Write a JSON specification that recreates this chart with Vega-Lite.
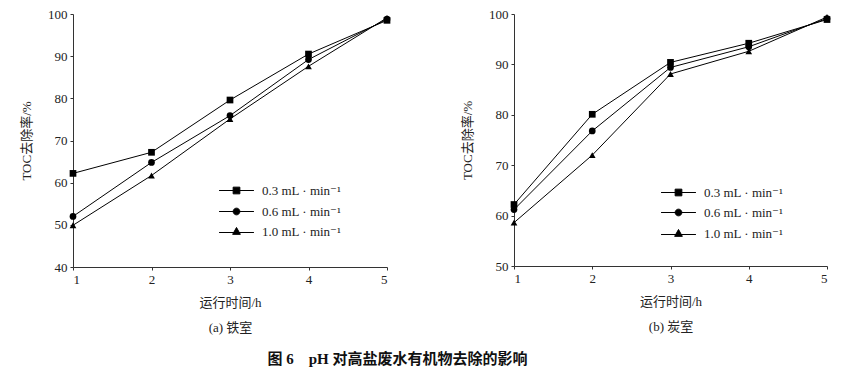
{
  "$schema": "https://vega.github.io/schema/vega-lite/v6.json",
  "padding": {"left": 20, "top": 8, "right": 5, "bottom": 5},
  "background": "white",
  "config": {
    "view": {"stroke": null},
    "font": "Liberation Serif, Noto Sans CJK SC",
    "axis": {
      "grid": false,
      "domainColor": "#333",
      "tickColor": "#333",
      "tickSize": 3,
      "labelFont": "Liberation Serif",
      "labelFontSize": 13,
      "labelColor": "#222",
      "labelPadding": 3,
      "titleFont": "Liberation Serif, Noto Sans CJK SC",
      "titleFontSize": 13,
      "titleFontWeight": "normal",
      "titleColor": "#222"
    },
    "legend": {
      "labelFont": "Liberation Serif, DejaVu Serif",
      "labelFontSize": 13,
      "labelColor": "#222",
      "title": null,
      "orient": "none",
      "labelOffset": 19,
      "symbolSize": 45,
      "symbolStrokeColor": "black",
      "symbolStrokeWidth": 1,
      "symbolFillColor": "black",
      "symbolOpacity": 1
    }
  },
  "datasets": {
    "iron": [
      {"t": 1, "rate": "0.3 mL · min⁻¹", "toc": 62.2},
      {"t": 2, "rate": "0.3 mL · min⁻¹", "toc": 67.2},
      {"t": 3, "rate": "0.3 mL · min⁻¹", "toc": 79.6},
      {"t": 4, "rate": "0.3 mL · min⁻¹", "toc": 90.5},
      {"t": 5, "rate": "0.3 mL · min⁻¹", "toc": 98.5},
      {"t": 1, "rate": "0.6 mL · min⁻¹", "toc": 52.0},
      {"t": 2, "rate": "0.6 mL · min⁻¹", "toc": 64.8},
      {"t": 3, "rate": "0.6 mL · min⁻¹", "toc": 75.9},
      {"t": 4, "rate": "0.6 mL · min⁻¹", "toc": 89.2},
      {"t": 5, "rate": "0.6 mL · min⁻¹", "toc": 98.8},
      {"t": 1, "rate": "1.0 mL · min⁻¹", "toc": 49.9},
      {"t": 2, "rate": "1.0 mL · min⁻¹", "toc": 61.7},
      {"t": 3, "rate": "1.0 mL · min⁻¹", "toc": 75.1},
      {"t": 4, "rate": "1.0 mL · min⁻¹", "toc": 87.6},
      {"t": 5, "rate": "1.0 mL · min⁻¹", "toc": 99.1}
    ],
    "carbon": [
      {"t": 1, "rate": "0.3 mL · min⁻¹", "toc": 62.2},
      {"t": 2, "rate": "0.3 mL · min⁻¹", "toc": 80.1},
      {"t": 3, "rate": "0.3 mL · min⁻¹", "toc": 90.4},
      {"t": 4, "rate": "0.3 mL · min⁻¹", "toc": 94.2},
      {"t": 5, "rate": "0.3 mL · min⁻¹", "toc": 98.9},
      {"t": 1, "rate": "0.6 mL · min⁻¹", "toc": 61.2},
      {"t": 2, "rate": "0.6 mL · min⁻¹", "toc": 76.8},
      {"t": 3, "rate": "0.6 mL · min⁻¹", "toc": 89.4},
      {"t": 4, "rate": "0.6 mL · min⁻¹", "toc": 93.5},
      {"t": 5, "rate": "0.6 mL · min⁻¹", "toc": 99.1},
      {"t": 1, "rate": "1.0 mL · min⁻¹", "toc": 58.6},
      {"t": 2, "rate": "1.0 mL · min⁻¹", "toc": 72.0},
      {"t": 3, "rate": "1.0 mL · min⁻¹", "toc": 88.1},
      {"t": 4, "rate": "1.0 mL · min⁻¹", "toc": 92.6},
      {"t": 5, "rate": "1.0 mL · min⁻¹", "toc": 99.4}
    ]
  },
  "title": {
    "text": "图 6　pH 对高盐废水有机物去除的影响",
    "orient": "bottom",
    "anchor": "middle",
    "font": "Liberation Serif, Noto Sans CJK SC",
    "fontSize": 15,
    "fontWeight": "bold",
    "color": "#111",
    "offset": 18,
    "dx": -28
  },
  "spacing": 70,
  "resolve": {"scale": {"shape": "independent", "color": "independent"}, "legend": {"shape": "independent", "color": "independent"}},
  "hconcat": [
    {
      "width": 314,
      "height": 253,
      "data": {"name": "iron"},
      "encoding": {
        "x": {"field": "t", "type": "quantitative", "scale": {"domain": [1, 5], "nice": false, "zero": false},
              "axis": {"values": [1, 2, 3, 4, 5], "format": "d", "title": ["运行时间/h", "(a) 铁室"], "titleLineHeight": 25, "titlePadding": 10}},
        "y": {"field": "toc", "type": "quantitative", "scale": {"domain": [40, 100], "nice": false, "zero": false},
              "axis": {"values": [40, 50, 60, 70, 80, 90, 100], "title": "TOC去除率/%", "titlePadding": 14}}
      },
      "layer": [
        {"mark": {"type": "line", "color": "black", "strokeWidth": 1}, "encoding": {"detail": {"field": "rate"}}},
        {"mark": {"type": "point", "filled": true, "color": "black", "size": 45, "opacity": 1},
         "encoding": {"shape": {"field": "rate", "type": "nominal",
           "scale": {"domain": ["0.3 mL · min⁻¹", "0.6 mL · min⁻¹", "1.0 mL · min⁻¹"], "range": ["square", "circle", "triangle-up"]}, "legend": null}}},
        {"transform": [{"filter": {"field": "rate", "equal": "0.3 mL · min⁻¹"}}],
         "mark": {"type": "point", "filled": true, "size": 0},
         "encoding": {"color": {"field": "rate", "type": "nominal", "scale": {"domain": ["0.3 mL · min⁻¹"], "range": ["black"]},
           "legend": {"legendX": 157, "legendY": 170, "symbolType": "M-5.2,0H5.2M-1,-1H1V1H-1Z"}}}},
        {"transform": [{"filter": {"field": "rate", "equal": "0.6 mL · min⁻¹"}}],
         "mark": {"type": "point", "filled": true, "size": 0},
         "encoding": {"color": {"field": "rate", "type": "nominal", "scale": {"domain": ["0.6 mL · min⁻¹"], "range": ["black"]},
           "legend": {"legendX": 157, "legendY": 191, "symbolType": "M-5.2,0H5.2M-1,0A1,1,0,1,0,1,0A1,1,0,1,0,-1,0Z"}}}},
        {"transform": [{"filter": {"field": "rate", "equal": "1.0 mL · min⁻¹"}}],
         "mark": {"type": "point", "filled": true, "size": 0},
         "encoding": {"color": {"field": "rate", "type": "nominal", "scale": {"domain": ["1.0 mL · min⁻¹"], "range": ["black"]},
           "legend": {"legendX": 157, "legendY": 211, "symbolType": "M-5.2,0.3H5.2M0,-1.2L1.15,0.85H-1.15Z"}}}}
      ],
      "resolve": {"scale": {"color": "independent"}, "legend": {"color": "independent"}}
    },
    {
      "width": 313,
      "height": 252,
      "data": {"name": "carbon"},
      "encoding": {
        "x": {"field": "t", "type": "quantitative", "scale": {"domain": [1, 5], "nice": false, "zero": false},
              "axis": {"values": [1, 2, 3, 4, 5], "format": "d", "title": ["运行时间/h", "(b) 炭室"], "titleLineHeight": 25, "titlePadding": 10}},
        "y": {"field": "toc", "type": "quantitative", "scale": {"domain": [50, 100], "nice": false, "zero": false},
              "axis": {"values": [50, 60, 70, 80, 90, 100], "title": "TOC去除率/%", "titlePadding": 14}}
      },
      "layer": [
        {"mark": {"type": "line", "color": "black", "strokeWidth": 1}, "encoding": {"detail": {"field": "rate"}}},
        {"mark": {"type": "point", "filled": true, "color": "black", "size": 45, "opacity": 1},
         "encoding": {"shape": {"field": "rate", "type": "nominal",
           "scale": {"domain": ["0.3 mL · min⁻¹", "0.6 mL · min⁻¹", "1.0 mL · min⁻¹"], "range": ["square", "circle", "triangle-up"]}, "legend": null}}},
        {"transform": [{"filter": {"field": "rate", "equal": "0.3 mL · min⁻¹"}}],
         "mark": {"type": "point", "filled": true, "size": 0},
         "encoding": {"color": {"field": "rate", "type": "nominal", "scale": {"domain": ["0.3 mL · min⁻¹"], "range": ["black"]},
           "legend": {"legendX": 158, "legendY": 172, "symbolType": "M-5.2,0H5.2M-1,-1H1V1H-1Z"}}}},
        {"transform": [{"filter": {"field": "rate", "equal": "0.6 mL · min⁻¹"}}],
         "mark": {"type": "point", "filled": true, "size": 0},
         "encoding": {"color": {"field": "rate", "type": "nominal", "scale": {"domain": ["0.6 mL · min⁻¹"], "range": ["black"]},
           "legend": {"legendX": 158, "legendY": 192, "symbolType": "M-5.2,0H5.2M-1,0A1,1,0,1,0,1,0A1,1,0,1,0,-1,0Z"}}}},
        {"transform": [{"filter": {"field": "rate", "equal": "1.0 mL · min⁻¹"}}],
         "mark": {"type": "point", "filled": true, "size": 0},
         "encoding": {"color": {"field": "rate", "type": "nominal", "scale": {"domain": ["1.0 mL · min⁻¹"], "range": ["black"]},
           "legend": {"legendX": 158, "legendY": 213, "symbolType": "M-5.2,0.3H5.2M0,-1.2L1.15,0.85H-1.15Z"}}}}
      ],
      "resolve": {"scale": {"color": "independent"}, "legend": {"color": "independent"}}
    }
  ]
}
